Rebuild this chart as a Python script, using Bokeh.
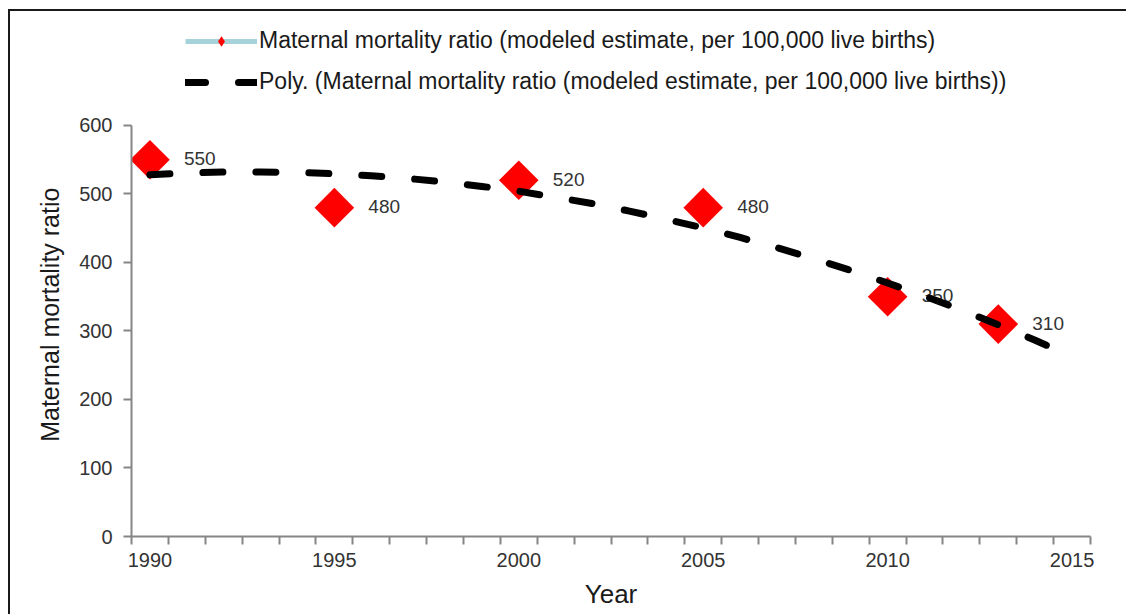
import math
from bokeh.plotting import figure
from bokeh.models import Range1d, FixedTicker, Legend, LegendItem, ColumnDataSource
from bokeh.core.properties import value
from bokeh.embed import file_html
from bokeh.resources import INLINE

# ---- data ----
years = [1990, 1995, 2000, 2005, 2010, 2013]
mmr = [550, 480, 520, 480, 350, 310]
mmr_labels = ["550", "480", "520", "480", "350", "310"]

trend_years = list(range(1990, 2016))
trend_values = [528, 530.5, 532, 532, 531.5, 529.5, 526.5, 522.5, 517.5, 511,
                504, 495, 486, 475, 463, 450.5, 436.5, 421.5, 405.5, 388.5,
                370, 351, 330.5, 309, 286.5, 262.5]

x_tick_years = [1990, 1995, 2000, 2005, 2010, 2015]
y_ticks = [0, 100, 200, 300, 400, 500, 600]

series_name = "Maternal mortality ratio (modeled estimate, per 100,000 live births)"
trend_name = "Poly. (Maternal mortality ratio (modeled estimate, per 100,000 live births))"
y_title = "Maternal mortality ratio"
x_title = "Year"

FONT = "Liberation Sans"
Y_TOP = 759  # headroom above the 600 axis end, where the legend sits

p = figure(frame_width=959, frame_height=520,
           min_border_left=121, min_border_right=36,
           min_border_top=5, min_border_bottom=78,
           x_range=Range1d(1989.5, 2015.5), y_range=Range1d(0, Y_TOP),
           output_backend="svg", toolbar_location=None,
           background_fill_color="white", border_fill_color="white")
p.outline_line_color = None
p.grid.grid_line_color = None
p.styles = {"margin-left": "8px", "margin-top": "9px",
            "border-left": "2px solid #1a1a1a", "border-top": "2px solid #1a1a1a"}

# series line (gaps between non-consecutive years, like blank cells)
line_x, line_y = [], []
for yr, v in zip(years, mmr):
    line_x += [yr, float("nan")]
    line_y += [v, float("nan")]
series_line = p.line(line_x, line_y, line_color="#a5d3d9", line_width=5)
# small diamond used only as the legend sample (no points of its own)
legend_marker = p.scatter([float("nan")], [float("nan")], marker="diamond",
                          fill_color="#ff0000", line_color=None)

pts = p.scatter(years, mmr, marker="square", angle=math.pi / 4, size=28,
                fill_color="#ff0000", line_color=None)

src = ColumnDataSource(dict(x=years, y=mmr, t=mmr_labels))
p.text(x="x", y="y", text="t", source=src, x_offset=34, y_offset=-1,
       text_align="left", text_baseline="middle",
       text_font=value(FONT), text_font_size="19px", text_color="#333333")

trend = p.line(trend_years, trend_values, line_color="black", line_width=7,
               line_dash="20 33", line_cap="round")

# axes
xa = p.xaxis[0]
xa.ticker = FixedTicker(ticks=x_tick_years,
                        minor_ticks=[y - 0.5 for y in range(1990, 2017)])
xa.major_tick_out = 0
xa.major_tick_in = 0
xa.minor_tick_out = 8
xa.minor_tick_in = 0
xa.axis_label = x_title

ya = p.yaxis[0]
ya.ticker = FixedTicker(ticks=y_ticks)
ya.bounds = (0, 600)
ya.major_tick_out = 8
ya.major_tick_in = 0
# trailing no-break spaces centre the visible title on the 0-600 span
ya.axis_label = y_title + "\u00a0" * 11

for ax in (xa, ya):
    ax.axis_line_color = "#868686"
    ax.axis_line_width = 2
    ax.major_tick_line_color = "#868686"
    ax.major_tick_line_width = 2
    ax.minor_tick_line_color = "#868686" if ax is xa else None
    ax.minor_tick_line_width = 2
    ax.major_label_text_font = FONT
    ax.major_label_text_font_size = "20px"
    ax.major_label_text_color = "#333333"
    ax.axis_label_text_font = FONT
    ax.axis_label_text_font_style = "normal"
    ax.axis_label_text_color = "#1a1a1a"

xa.axis_label_text_font_size = "26px"
ya.axis_label_text_font_size = "25px"
xa.major_label_standoff = 8
xa.axis_label_standoff = 9
ya.major_label_standoff = 11
ya.axis_label_standoff = 12

legend = Legend(items=[LegendItem(label=series_name, renderers=[series_line, legend_marker]),
                       LegendItem(label=trend_name, renderers=[trend])],
                location=(54, 441), orientation="vertical",
                glyph_width=72, glyph_height=26, label_height=26,
                label_standoff=2, spacing=14, padding=0, margin=0,
                border_line_color=None, background_fill_alpha=0,
                label_text_font=FONT, label_text_font_size="23px",
                label_text_color="#1a1a1a")
p.add_layout(legend, "center")

open("out.html", "w").write(file_html(p, INLINE))
